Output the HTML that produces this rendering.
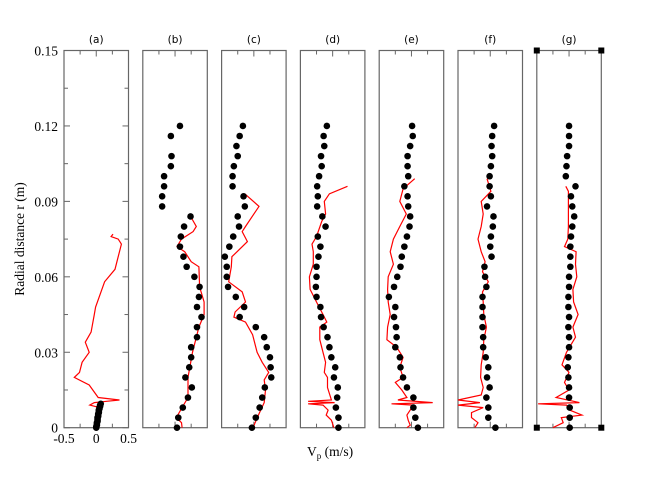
<!DOCTYPE html>
<html><head><meta charset="utf-8"><style>
body{margin:0;background:#fff;}
svg{display:block;}
</style></head><body>
<svg id="chart" width="645" height="480" viewBox="0 0 645 480" xmlns="http://www.w3.org/2000/svg"></svg>
<script>
const panelLabels = ["(a)","(b)","(c)","(d)","(e)","(f)","(g)"];
const yTicks = [0,0.03,0.06,0.09,0.12,0.15];
const yTickLabels = ["0","0.03","0.06","0.09","0.12","0.15"];
const xTicks = [-0.5,0,0.5];
const xTickLabels = ["-0.5","0","0.5"];
const rFull = [0.12,0.116,0.112,0.108,0.104,0.1,0.096,0.092,0.088,0.084,0.08,0.076,0.072,0.068,0.064,0.06,0.056,0.052,0.048,0.044,0.04,0.036,0.032,0.028,0.024,0.02,0.016,0.012,0.008,0.004,0];
const rB = [0.12,0.116,0.108,0.104,0.1,0.096,0.092,0.088,0.084,0.08,0.076,0.072,0.068,0.064,0.06,0.056,0.052,0.048,0.044,0.04,0.036,0.032,0.028,0.024,0.02,0.016,0.012,0.008,0.004,0];
const rA = [0.0095,0.009,0.0085,0.008,0.0075,0.007,0.0065,0.006,0.0055,0.005,0.0045,0.004,0.0035,0.003,0.0025,0.002,0.0015,0.001,0.0005,0];
const dotsA = [0.07,0.06,0.06,0.05,0.05,0.04,0.04,0.04,0.03,0.03,0.03,0.02,0.02,0.02,0.02,0.01,0.01,0.01,0.0,0.0];
const dotsB = [0.076,-0.065,-0.055,-0.065,-0.17,-0.17,-0.2,-0.2,0.24,0.14,0.09,0.076,0.13,0.18,0.3,0.38,0.37,0.34,0.41,0.34,0.34,0.25,0.25,0.22,0.16,0.26,0.2,0.12,0.05,0.03];
const dotsC = [-0.17,-0.22,-0.27,-0.25,-0.31,-0.33,-0.33,-0.16,-0.14,-0.25,-0.23,-0.32,-0.38,-0.45,-0.42,-0.42,-0.4,-0.28,-0.15,-0.22,0.03,0.16,0.2,0.25,0.26,0.27,0.17,0.13,0.09,0.03,-0.03];
const dotsD = [-0.09,-0.14,-0.13,-0.18,-0.17,-0.21,-0.24,-0.23,-0.24,-0.16,-0.11,-0.23,-0.19,-0.22,-0.25,-0.25,-0.26,-0.25,-0.19,-0.18,-0.14,-0.08,-0.05,-0.02,0.04,0.02,0.08,0.07,0.05,0.09,0.09];
const dotsE = [0.01,0.02,-0.02,-0.06,-0.06,-0.05,-0.11,-0.06,-0.05,-0.02,-0.03,-0.07,-0.11,-0.15,-0.17,-0.22,-0.27,-0.35,-0.25,-0.27,-0.24,-0.23,-0.25,-0.18,-0.17,-0.13,-0.07,0.03,0.03,0.06,0.1];
const dotsF = [0.06,0.03,0.02,0.03,0.01,-0.01,-0.01,0.01,-0.05,0.05,0.04,0.01,0,0.02,-0.09,-0.08,-0.06,-0.12,-0.12,-0.12,-0.12,-0.11,-0.11,-0.07,-0.03,-0.05,-0.01,-0.06,-0.03,-0.03,0.08];
const dotsG = [0,0,0,-0.03,-0.04,-0.05,0.1,0.03,0.05,0.08,0.05,0.03,0.02,0.02,0.02,0,0,-0.01,-0.01,0,-0.01,0,0,-0.01,-0.02,-0.01,0,0,0.01,0.01,0.01];
const lineAr = [0.077,0.076,0.075,0.073,0.068,0.063,0.058,0.048,0.045,0.038,0.034,0.03,0.026,0.022,0.02,0.017,0.012,0.011,0.0105,0.01,0.009,0.008,0.005,0.002,0];
const lineAv = [0.26,0.23,0.34,0.39,0.34,0.29,0.13,-0.01,-0.03,-0.08,-0.17,-0.11,-0.22,-0.26,-0.34,-0.11,0.03,0.36,0.16,-0.03,-0.1,0.05,0.04,0.02,0.01];
const lineBr = [0.085,0.08,0.078,0.075,0.072,0.07,0.066,0.064,0.056,0.05,0.045,0.04,0.035,0.03,0.02,0.012,0.008,0.004,0.002,0];
const lineBv = [0.22,0.33,0.28,0.1,0.03,0.15,0.25,0.37,0.38,0.45,0.45,0.37,0.32,0.27,0.2,0.2,0.11,0.02,0.1,0.11];
const lineCr = [0.093,0.088,0.08,0.078,0.074,0.07,0.068,0.064,0.058,0.054,0.05,0.046,0.044,0.042,0.037,0.03,0.026,0.022,0.019,0.015,0.01,0.005,0.002,0];
const lineCv = [-0.14,0.08,-0.13,-0.18,-0.1,-0.26,-0.34,-0.35,-0.39,-0.18,-0.13,-0.29,-0.31,-0.13,-0.02,0.05,0.13,0.23,0.16,0.18,0.16,0.07,0.02,-0.01];
const lineDr = [0.096,0.093,0.09,0.085,0.082,0.076,0.073,0.07,0.065,0.06,0.055,0.05,0.045,0.042,0.04,0.035,0.03,0.026,0.022,0.02,0.016,0.011,0.0105,0.01,0.0095,0.009,0.007,0.005,0.003,0];
const lineDv = [0.23,-0.05,-0.13,-0.11,-0.17,-0.25,-0.32,-0.3,-0.3,-0.36,-0.35,-0.25,-0.15,-0.09,-0.2,-0.2,-0.15,-0.11,-0.13,-0.08,-0.08,-0.02,-0.38,0.03,-0.38,-0.15,-0.07,-0.1,-0.02,0.02];
const lineEr = [0.099,0.095,0.09,0.085,0.08,0.075,0.07,0.065,0.06,0.055,0.05,0.045,0.04,0.035,0.032,0.028,0.024,0.02,0.018,0.015,0.012,0.011,0.01,0.0095,0.009,0.007,0.005,0.003,0.001,0];
const lineEv = [0.05,-0.13,-0.18,-0.08,-0.18,-0.28,-0.33,-0.28,-0.36,-0.37,-0.36,-0.33,-0.37,-0.38,-0.23,-0.13,-0.18,-0.13,-0.25,-0.15,-0.07,-0.21,0.33,-0.31,0.03,-0.02,-0.07,-0.05,-0.02,-0.07];
const lineFr = [0.099,0.094,0.09,0.085,0.08,0.075,0.07,0.066,0.062,0.058,0.054,0.05,0.045,0.04,0.035,0.03,0.025,0.02,0.016,0.013,0.011,0.01,0.009,0.008,0.006,0.004,0.002,0];
const lineFv = [-0.05,0.01,-0.14,-0.11,-0.14,-0.19,-0.14,-0.08,-0.12,-0.03,-0.12,-0.11,-0.1,-0.06,-0.1,-0.11,-0.14,-0.15,-0.11,-0.14,-0.5,-0.16,-0.5,-0.11,-0.29,-0.29,-0.19,-0.24];
const lineGr = [0.096,0.094,0.08,0.075,0.072,0.07,0.065,0.06,0.055,0.05,0.045,0.04,0.036,0.03,0.025,0.022,0.018,0.015,0.012,0.01,0.0095,0.009,0.007,0.005,0.004,0.002,0];
const lineGv = [-0.05,-0.01,-0.01,-0.02,-0.07,0.11,0.1,0.12,0.06,0.07,0.14,0.06,0.1,-0.04,-0.11,0,-0.07,0,-0.2,0.16,-0.48,-0.04,0.01,0.2,-0.12,-0.09,-0.25];

const panels = [
 {dr:rA,dv:dotsA,lr:lineAr,lv:lineAv},
 {dr:rB,dv:dotsB,lr:lineBr,lv:lineBv},
 {dr:rFull,dv:dotsC,lr:lineCr,lv:lineCv},
 {dr:rFull,dv:dotsD,lr:lineDr,lv:lineDv},
 {dr:rFull,dv:dotsE,lr:lineEr,lv:lineEv},
 {dr:rFull,dv:dotsF,lr:lineFr,lv:lineFv},
 {dr:rFull,dv:dotsG,lr:lineGr,lv:lineGv}
];
const svg = document.getElementById('chart');
const NS = 'http://www.w3.org/2000/svg';
const TOP = 50.5, BOT = 427.7, PW = 64.5;
function pLeft(i){ return 64 + 78.8*i; }
function xPx(i,v){ return pLeft(i) + PW/2 + v*PW; }
function yPx(r){ return BOT - (r/0.15)*(BOT-TOP); }
function mk(tag, attrs){ const e=document.createElementNS(NS,tag); for(const k in attrs) e.setAttribute(k,attrs[k]); svg.appendChild(e); return e; }

panels.forEach((p,i)=>{
  const L = pLeft(i);
  const fr = mk('rect',{x:L,y:TOP,width:PW,height:BOT-TOP,fill:'none',stroke:'#666','stroke-width':1.2});
  
  
  const t = mk('text',{x:L+PW/2,y:43,'text-anchor':'middle','font-family':'DejaVu Sans, sans-serif','font-size':10.5,fill:'#000'});
  t.textContent = panelLabels[i];
  
  
  [-0.25,0,0.25].forEach(v=>{
    const len = v===0?6:4;
    mk('line',{x1:xPx(i,v),x2:xPx(i,v),y1:TOP,y2:TOP+len,stroke:'#666','stroke-width':1});
    mk('line',{x1:xPx(i,v),x2:xPx(i,v),y1:BOT,y2:BOT-len,stroke:'#666','stroke-width':1});
  });
  if(i===6){
    [[L,TOP],[L+PW,TOP],[L,BOT],[L+PW,BOT]].forEach(c=>{
      const s = mk('rect',{x:c[0]-3,y:c[1]-3,width:6,height:6,fill:'#000'});
      
      
    });
  }
  const pts = p.lr.map((r,k)=>xPx(i,p.lv[k]).toFixed(1)+','+yPx(r).toFixed(1)).join(' ');
  const pl = mk('polyline',{points:pts,fill:'none',stroke:'#f00','stroke-width':1.2});
  
  
  p.dr.forEach((r,k)=>{
    const c = mk('circle',{cx:xPx(i,p.dv[k]),cy:yPx(r),r:3.3,fill:'#000'});
    
    
  });
});
// y axis ticks on panel a
for(let k=0;k<=10;k++){
  const r = k*0.015, major = k%2===0, len = major?6:4;
  mk('line',{x1:pLeft(0),x2:pLeft(0)+len,y1:yPx(r),y2:yPx(r),stroke:'#666','stroke-width':1});
  mk('line',{x1:pLeft(0)+PW,x2:pLeft(0)+PW-len,y1:yPx(r),y2:yPx(r),stroke:'#666','stroke-width':1});
}
yTicks.forEach((r,k)=>{
  const t = mk('text',{x:58,y:yPx(r)+5,'text-anchor':'end','font-family':'Liberation Serif, serif','font-size':13.5,fill:'#000'});
  t.textContent = yTickLabels[k];
  
  
});
xTicks.forEach((v,k)=>{
  const t = mk('text',{x:xPx(0,v),y:443,'text-anchor':'middle','font-family':'Liberation Serif, serif','font-size':13.5,fill:'#000'});
  t.textContent = xTickLabels[k];
  
  
});
const yt = mk('text',{x:0,y:0,transform:'translate(24,239) rotate(-90)','text-anchor':'middle','font-family':'Liberation Serif, serif','font-size':13.5,fill:'#000'});
yt.textContent = 'Radial distance r (m)';


const xt = mk('text',{x:307,y:456,'font-family':'Liberation Serif, serif','font-size':13.5,fill:'#000'});
xt.innerHTML = 'V<tspan font-size="9" dy="3">p</tspan><tspan dy="-3"> (m/s)</tspan>';


</script>
</body></html>
